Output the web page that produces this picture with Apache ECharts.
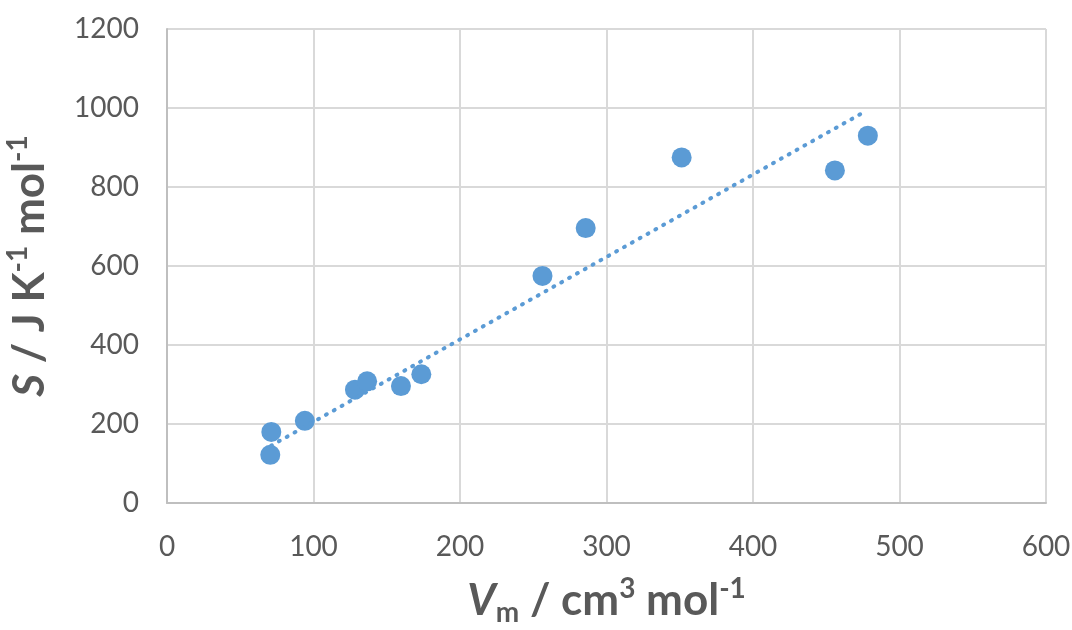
<!DOCTYPE html>
<html>
<head>
<meta charset="utf-8">
<script src="https://cdn.jsdelivr.net/npm/echarts@6/dist/echarts.min.js"></script>
<style>
html,body{margin:0;padding:0;background:#fff;}
#chart{width:1072px;height:630px;}
</style>
</head>
<body>
<div id="chart"></div>
<script>
// Data
var volumes = [70.5, 71.2, 94.1, 128.3, 136.6, 159.7, 173.6, 256.3, 285.8, 351.3, 455.9, 478.4];
var entropies = [122, 180, 208, 287, 308, 296, 326, 575, 696, 875, 842, 930];
var trendX = [71, 474];
var trendY = [145, 986];
var xTicks = [0, 100, 200, 300, 400, 500, 600];
var yTicks = [0, 200, 400, 600, 800, 1000, 1200];

var points = volumes.map(function (v, i) { return [v, entropies[i]]; });
var trend = trendX.map(function (v, i) { return [v, trendY[i]]; });

var blue = '#5B9BD5';
var labelFont = 'Lato, "Open Sans", sans-serif';
var titleRich = {
  b: { fontSize: 44, fontWeight: 'bold', color: '#595959', fontFamily: labelFont, lineHeight: 52 },
  it: { fontSize: 44, fontWeight: 'bold', fontStyle: 'italic', color: '#595959', fontFamily: labelFont, lineHeight: 52 },
  sup: { fontSize: 28, fontWeight: 'bold', color: '#595959', fontFamily: labelFont, lineHeight: 34, verticalAlign: 'top' },
  sub: { fontSize: 28, fontWeight: 'bold', color: '#595959', fontFamily: labelFont, lineHeight: 32, verticalAlign: 'bottom' }
};
function plain(v) { return String(v); }

var chart = echarts.init(document.getElementById('chart'), null, { renderer: 'canvas' });
chart.setOption({
  animation: false,
  backgroundColor: '#fff',
  grid: { left: 167, right: 26, top: 29, bottom: 127, containLabel: false, outerBoundsMode: 'none' },
  xAxis: {
    type: 'value', min: xTicks[0], max: xTicks[xTicks.length - 1], interval: 100,
    name: '{it|V}{sub|m}{b| / cm}{sup|3}{b| mol}{sup|-1}',
    nameLocation: 'middle', nameGap: 72,
    nameTextStyle: { rich: titleRich },
    axisLine: { show: true, lineStyle: { color: '#bfbfbf', width: 2 } },
    axisTick: { show: false },
    splitLine: { show: true, lineStyle: { color: '#d9d9d9', width: 2 } },
    axisLabel: { color: '#595959', fontSize: 28, fontFamily: labelFont, margin: 30, formatter: plain }
  },
  yAxis: {
    type: 'value', min: yTicks[0], max: yTicks[yTicks.length - 1], interval: 200,
    name: '{it|S}{b| / J K}{sup|-1}{b| mol}{sup|-1}',
    nameLocation: 'middle', nameGap: 111, nameRotate: 90,
    nameTextStyle: { rich: titleRich },
    axisLine: { show: true, lineStyle: { color: '#bfbfbf', width: 2 } },
    axisTick: { show: false },
    splitLine: { show: true, lineStyle: { color: '#d9d9d9', width: 2 } },
    axisLabel: { color: '#595959', fontSize: 28, fontFamily: labelFont, margin: 28, formatter: plain }
  },
  series: [
    {
      type: 'scatter', data: points, symbol: 'circle', symbolSize: 20,
      itemStyle: { color: blue, opacity: 1 }, z: 2
    },
    {
      type: 'line', data: trend, showSymbol: false, symbol: 'none',
      lineStyle: { color: blue, width: 4, type: [1, 8], cap: 'round' }, z: 3
    }
  ]
});
</script>
</body>
</html>
